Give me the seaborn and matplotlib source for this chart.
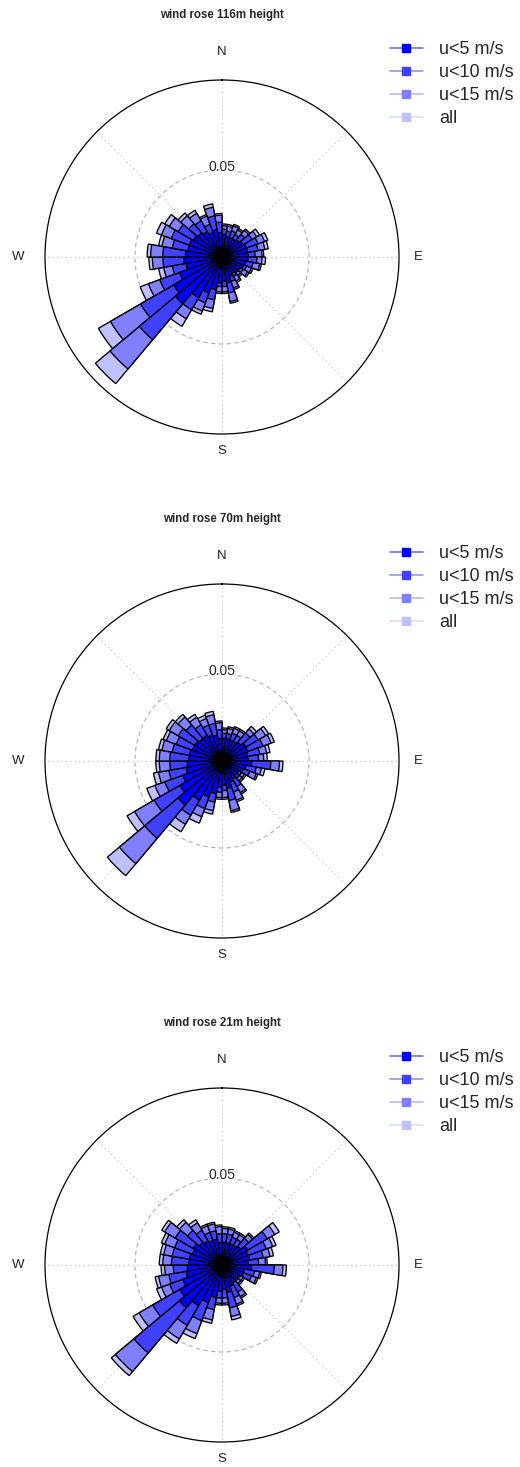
import numpy as np
import matplotlib
matplotlib.use("Agg")
import matplotlib.pyplot as plt
from matplotlib.lines import Line2D
import seaborn as sns

# sector centres (degrees clockwise from north), 10 degree bins
sectors = np.arange(5, 360, 10)

heights = ["116m", "70m", "21m"]
series_labels = ["u<5 m/s", "u<10 m/s", "u<15 m/s", "all"]
series_colors = ["#0000ff", "#4040ff", "#8080ff", "#c0c0ff"]
compass = ["N", "E", "S", "W"]

# cumulative frequencies per sector
h116_all = [0.019, 0.019, 0.020, 0.019, 0.021, 0.025, 0.028, 0.027, 0.024, 0.025, 0.023, 0.019,
            0.018, 0.015, 0.017, 0.020, 0.027, 0.021, 0.021, 0.032, 0.035, 0.046, 0.095, 0.082,
            0.050, 0.037, 0.042, 0.043, 0.037, 0.040, 0.038, 0.033, 0.031, 0.026, 0.031, 0.025]
h116_u15 = [0.018, 0.018, 0.019, 0.018, 0.020, 0.023, 0.026, 0.025, 0.023, 0.023, 0.022, 0.018,
            0.017, 0.014, 0.016, 0.019, 0.026, 0.020, 0.020, 0.030, 0.033, 0.041, 0.084, 0.074,
            0.045, 0.034, 0.040, 0.041, 0.035, 0.037, 0.035, 0.031, 0.029, 0.025, 0.029, 0.024]
h116_u10 = [0.016, 0.015, 0.016, 0.015, 0.017, 0.020, 0.022, 0.021, 0.019, 0.020, 0.018, 0.015,
            0.014, 0.012, 0.013, 0.015, 0.021, 0.017, 0.017, 0.025, 0.028, 0.035, 0.062, 0.054,
            0.038, 0.029, 0.034, 0.034, 0.029, 0.031, 0.029, 0.025, 0.024, 0.020, 0.024, 0.020]
h116_u5 = [0.013, 0.012, 0.012, 0.012, 0.013, 0.014, 0.015, 0.015, 0.015, 0.015, 0.014, 0.013,
           0.012, 0.011, 0.011, 0.012, 0.015, 0.014, 0.015, 0.019, 0.022, 0.027, 0.035, 0.032,
           0.026, 0.021, 0.022, 0.021, 0.020, 0.020, 0.019, 0.018, 0.017, 0.015, 0.016, 0.014]

h70_all = [0.019, 0.020, 0.021, 0.021, 0.026, 0.031, 0.032, 0.028, 0.026, 0.035, 0.025, 0.022,
           0.016, 0.016, 0.022, 0.025, 0.030, 0.022, 0.022, 0.031, 0.038, 0.047, 0.086, 0.063,
           0.046, 0.040, 0.038, 0.038, 0.037, 0.036, 0.037, 0.035, 0.031, 0.028, 0.029, 0.023]
h70_u15 = [0.018, 0.019, 0.020, 0.020, 0.024, 0.029, 0.030, 0.026, 0.024, 0.033, 0.023, 0.021,
           0.015, 0.015, 0.021, 0.024, 0.029, 0.021, 0.021, 0.029, 0.034, 0.042, 0.077, 0.058,
           0.041, 0.037, 0.036, 0.036, 0.035, 0.034, 0.035, 0.033, 0.029, 0.026, 0.027, 0.022]
h70_u10 = [0.016, 0.016, 0.017, 0.017, 0.021, 0.024, 0.025, 0.022, 0.021, 0.028, 0.020, 0.017,
           0.013, 0.013, 0.017, 0.019, 0.023, 0.017, 0.018, 0.024, 0.029, 0.036, 0.058, 0.045,
           0.035, 0.031, 0.030, 0.030, 0.029, 0.028, 0.029, 0.027, 0.024, 0.022, 0.022, 0.018]
h70_u5 = [0.013, 0.013, 0.013, 0.013, 0.014, 0.016, 0.016, 0.015, 0.015, 0.017, 0.014, 0.013,
          0.011, 0.011, 0.012, 0.013, 0.016, 0.014, 0.015, 0.019, 0.022, 0.026, 0.033, 0.028,
          0.024, 0.021, 0.020, 0.019, 0.019, 0.018, 0.018, 0.017, 0.017, 0.016, 0.015, 0.013]

h21_all = [0.022, 0.022, 0.021, 0.021, 0.024, 0.038, 0.033, 0.030, 0.026, 0.037, 0.023, 0.022,
           0.015, 0.015, 0.022, 0.025, 0.032, 0.023, 0.023, 0.034, 0.045, 0.052, 0.083, 0.059,
           0.040, 0.039, 0.035, 0.036, 0.036, 0.037, 0.040, 0.034, 0.030, 0.025, 0.025, 0.023]
h21_u15 = [0.021, 0.021, 0.020, 0.020, 0.023, 0.035, 0.031, 0.028, 0.025, 0.035, 0.022, 0.021,
           0.014, 0.014, 0.021, 0.024, 0.030, 0.022, 0.022, 0.032, 0.042, 0.049, 0.080, 0.055,
           0.037, 0.037, 0.033, 0.034, 0.034, 0.035, 0.038, 0.032, 0.028, 0.024, 0.024, 0.022]
h21_u10 = [0.018, 0.018, 0.017, 0.017, 0.020, 0.030, 0.027, 0.024, 0.021, 0.030, 0.019, 0.018,
           0.012, 0.012, 0.018, 0.020, 0.025, 0.019, 0.019, 0.026, 0.034, 0.040, 0.066, 0.046,
           0.032, 0.031, 0.028, 0.029, 0.029, 0.029, 0.031, 0.026, 0.023, 0.020, 0.020, 0.018]
h21_u5 = [0.013, 0.013, 0.013, 0.013, 0.014, 0.017, 0.016, 0.016, 0.015, 0.017, 0.013, 0.013,
          0.011, 0.011, 0.012, 0.013, 0.016, 0.014, 0.015, 0.019, 0.023, 0.027, 0.032, 0.028,
          0.024, 0.021, 0.020, 0.019, 0.019, 0.018, 0.019, 0.017, 0.016, 0.015, 0.015, 0.013]

panels = [
    [h116_u5, h116_u10, h116_u15, h116_all],
    [h70_u5, h70_u10, h70_u15, h70_all],
    [h21_u5, h21_u10, h21_u15, h21_all],
]

sns.set_style("white")
plt.rcParams['font.family'] = ['Liberation Sans', 'DejaVu Sans']

W, H = 520, 1467
fig = plt.figure(figsize=(W / 100, H / 100), dpi=100)

rmax = 0.1017
cx, R = 222, 177
centers_y = [257, 761, 1265]
theta = np.deg2rad(sectors)
width = np.deg2rad(10)
# pixel offsets of the compass letters from the rose centre
label_offsets = [(0, -205), (196, 0), (0, 194), (-204, 0)]

for k, (label, layers) in enumerate(zip(heights, panels)):
    cy = centers_y[k]
    ax = fig.add_axes([(cx - R) / W, 1 - (cy + R) / H, 2 * R / W, 2 * R / H],
                      projection='polar')
    ax.set_theta_zero_location('N')
    ax.set_theta_direction(-1)

    # draw the largest layer first so the smaller ones sit on top
    for vals, col in reversed(list(zip(layers, series_colors))):
        ax.bar(theta, vals, width=width, bottom=0, color=col,
               edgecolor='black', linewidth=0.95, zorder=3)

    ax.set_ylim(0, rmax)
    ax.set_yticks([0.05])
    ax.set_yticklabels([])
    ax.yaxis.grid(True, linestyle=(0, (4, 3)), color='#b0b0b0', linewidth=0.8)
    ax.set_xticks(np.deg2rad(np.arange(0, 360, 45)))
    ax.set_xticklabels([])
    ax.xaxis.grid(True, linestyle=(0, (1, 3)), color='#c0c0c0', linewidth=0.8)
    ax.set_axisbelow(True)
    ax.spines['polar'].set_linewidth(0.9)
    ax.spines['polar'].set_color('black')
    ax.text(0, 0.0515, '0.05', ha='center', va='center', fontsize=10, zorder=5,
            bbox=dict(boxstyle='square,pad=0.05', facecolor='white', edgecolor='none'))

    for name, (dx, dy) in zip(compass, label_offsets):
        fig.text((cx + dx) / W, 1 - (cy + dy) / H, name, ha='center', va='center',
                 fontsize=9.5, color='#222222')

    fig.text(cx / W, 1 - (15 + 504 * k) / H, f'wind rose {label} height',
             ha='center', va='center', fontsize=8.3, fontweight='bold')

    handles = []
    for col in series_colors:
        rgb = np.array(matplotlib.colors.to_rgb(col))
        line_col = rgb * 0.55 + 0.45
        handles.append(Line2D([0], [0], color=line_col, linewidth=1.2, marker='s',
                              markersize=6, markerfacecolor=col, markeredgecolor=col))
    fig.legend(handles, series_labels, loc='upper left',
               bbox_to_anchor=(390 / W, 1 - (41 + 504 * k) / H),
               frameon=False, fontsize=13, handlelength=1.8, handletextpad=0.9,
               labelspacing=0.33, borderpad=0, borderaxespad=0)

fig.savefig('out.png', dpi=100)
